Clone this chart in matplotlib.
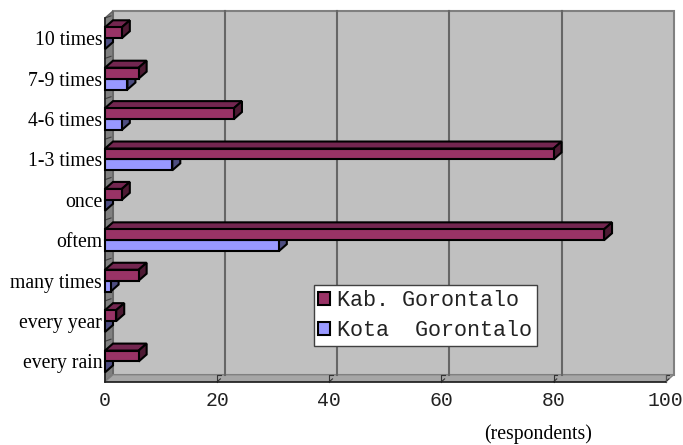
import matplotlib
matplotlib.use("Agg")
from matplotlib import pyplot as plt
from matplotlib.patches import Polygon, Patch

categories = ["every rain", "every year", "many times", "oftem", "once",
              "1-3 times", "4-6 times", "7-9 times", "10 times"]
kab = [6, 2, 6, 89, 3, 80, 23, 6, 3]
kota = [0, 0, 1, 31, 0, 12, 3, 4, 0]
xtick_vals = [0, 20, 40, 60, 80, 100]

# pixel layout of the front plane
W, H = 683, 445
fig = plt.figure(figsize=(W / 100, H / 100), dpi=100, facecolor="white")
ax = fig.add_axes([105 / W, (H - 381.7) / H, 560.7 / W, 363.7 / H])
ax.set_xlim(0, 100)
ax.set_ylim(0, 9)
for s in ax.spines.values():
    s.set_visible(False)
ax.patch.set_alpha(0)

# 3d depth in data units
dx = 8 / 5.607
dy = 7 / 40.41
bar_h = 0.27


def poly(pts, fc, ec="black", lw=1.5, z=3):
    ax.add_patch(Polygon(pts, closed=True, facecolor=fc, edgecolor=ec, linewidth=lw,
                         clip_on=False, zorder=z, joinstyle="miter"))


# walls and floor
poly([(dx, dy), (100 + dx, dy), (100 + dx, 9 + dy), (dx, 9 + dy)], "#c0c0c0", "#808080", 1.5, 1)
poly([(0, 0), (dx, dy), (dx, 9 + dy), (0, 9)], "#808080", "#606060", 1, 1)
poly([(0, 0), (100, 0), (100 + dx, dy), (dx, dy)], "#a6a6a6", "#808080", 1, 1)

# gridlines on the back wall
for v in xtick_vals[1:-1]:
    ax.plot([v + dx, v + dx], [dy, 9 + dy], color="#666666", lw=1.5, clip_on=False, zorder=2)

# small ticks on floor and side wall
for v in xtick_vals[1:]:
    ax.plot([v, v, v + dx * 0.45], [0, dy * 0.9, dy * 0.9], color="#333333", lw=0.8, clip_on=False, zorder=2)
    ax.plot([v, v + dx * 0.4], [0, dy * 0.4], color="#333333", lw=0.8, clip_on=False, zorder=2)
for i in range(1, 10):
    ax.plot([0, dx * 0.75], [i, i + dy * 0.3], color="#404040", lw=0.8, clip_on=False, zorder=2)

# front axis lines
ax.plot([0, 100], [0, 0], color="#202020", lw=1.2, clip_on=False, zorder=2)
ax.plot([100, 100], [0, dy * 0.9], color="#505050", lw=0.8, clip_on=False, zorder=2)
ax.plot([0, 0], [0, 9], color="#202020", lw=1.2, clip_on=False, zorder=6)


def bar3d(val, y0, front, top, side, z):
    y1 = y0 + bar_h
    poly([(0, y1), (dx, y1 + dy), (val + dx, y1 + dy), (val, y1)], top, z=z)
    poly([(val, y0), (val + dx, y0 + dy), (val + dx, y1 + dy), (val, y1)], side, z=z)
    if val > 0:
        poly([(0, y0), (val, y0), (val, y1), (0, y1)], front, z=z)


for i in range(len(categories)):
    c = i + 0.5
    z = 10 + (len(categories) - i) * 2
    bar3d(kota[i], c - bar_h, "#9999ff", "#7373bf", "#4d4d80", z)
    bar3d(kab[i], c, "#993366", "#732650", "#4d1a33", z + 1)

# labels
ax.set_yticks([i + 0.5 for i in range(len(categories))])
ax.set_yticklabels(categories, family="Liberation Serif", fontsize=14.2)
ax.set_xticks(xtick_vals)
ax.set_xticklabels([str(v) for v in xtick_vals], family="Liberation Mono", fontsize=14.2, color="#222222")
ax.tick_params(axis="both", length=0)
ax.tick_params(axis="y", pad=2)
ax.tick_params(axis="x", pad=7)

fig.text(538 / W, (H - 434) / H, "(respondents)", family="Liberation Serif", fontsize=14.2,
         ha="center", va="center")

# legend
handles = [Patch(facecolor="#993366", edgecolor="black", linewidth=1.5, label="Kab. Gorontalo"),
           Patch(facecolor="#9999ff", edgecolor="black", linewidth=1.5, label="Kota  Gorontalo")]
leg = ax.legend(handles=handles, loc="lower left", bbox_to_anchor=(313.5 / W, (H - 346) / H),
                bbox_transform=fig.transFigure,
                prop={"family": "Liberation Mono", "size": 15.7},
                labelcolor="#222222", fancybox=False, framealpha=1, edgecolor="#404040",
                borderaxespad=0, handlelength=0.55, handleheight=0.55, handletextpad=0.3,
                labelspacing=0.42, borderpad=0.22)
leg.set_zorder(50)
leg.get_frame().set_linewidth(1.0)

plt.savefig("out.png", dpi=100)
